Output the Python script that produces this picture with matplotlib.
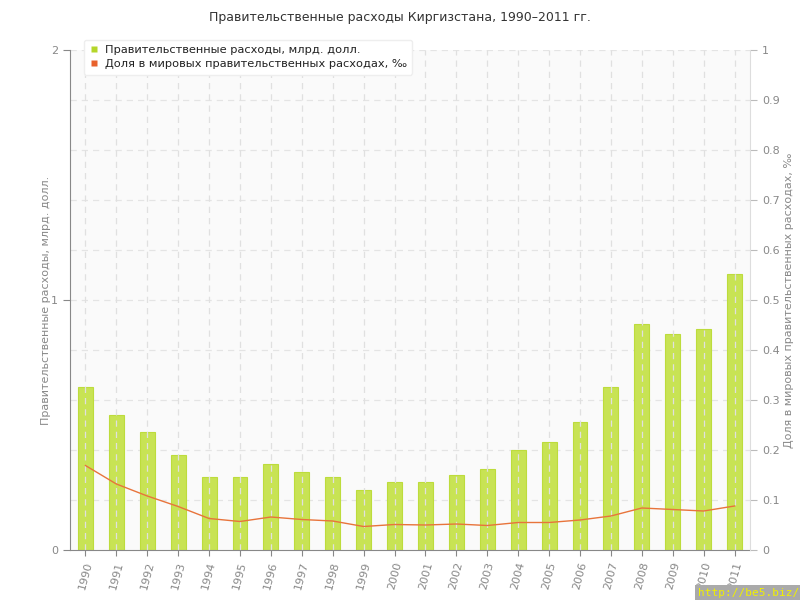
import matplotlib
matplotlib.use("Agg")
import matplotlib.pyplot as plt
from matplotlib.lines import Line2D
import numpy as np

years = [str(y) for y in range(1990, 2012)]
spending = [0.652, 0.54, 0.472, 0.38, 0.292, 0.292, 0.344, 0.312, 0.292, 0.24, 0.272,
            0.272, 0.30, 0.324, 0.40, 0.432, 0.512, 0.652, 0.904, 0.864, 0.884, 1.104]
share = [0.169, 0.132, 0.108, 0.087, 0.063, 0.057, 0.066, 0.061, 0.058, 0.047, 0.051,
         0.050, 0.052, 0.049, 0.055, 0.055, 0.060, 0.068, 0.084, 0.081, 0.078, 0.088]
left_ticks = [0, 1, 2]
right_ticks = [0, 0.1, 0.2, 0.3, 0.4, 0.5, 0.6, 0.7, 0.8, 0.9, 1]
right_labels = ["0", "0.1", "0.2", "0.3", "0.4", "0.5", "0.6", "0.7", "0.8", "0.9", "1"]

title = "Правительственные расходы Киргизстана, 1990–2011 гг."
left_label = "Правительственные расходы, млрд. долл."
right_label = "Доля в мировых правительственных расходах, ‰"
leg1 = "Правительственные расходы, млрд. долл."
leg2 = "Доля в мировых правительственных расходах, ‰"

plt.rcParams['font.family'] = ['DejaVu Sans']
gray = '#888888'

fig = plt.figure(figsize=(8, 6), dpi=100)
ax = fig.add_axes([70/800, 50/600, 680/800, 500/600])
ax2 = ax.twinx()

x = np.arange(len(years))
ax.set_facecolor('#fafafa')
ax.bar(x, spending, width=0.48, color='#c8e354', edgecolor='#bddc3c', linewidth=0.8, zorder=2)
ax.set_xlim(-0.5, len(years) - 0.5)
ax.set_ylim(0, 2)
ax.set_yticks(left_ticks)
ax.set_yticklabels([str(t) for t in left_ticks])
ax.set_xticks(x)
ax.set_xticklabels(years, rotation=75, ha='center', va='top')

ax2.plot(x, share, color='#e8743b', linewidth=1.0, zorder=3)
ax2.set_ylim(0, 1)
ax2.set_yticks(right_ticks)
ax2.set_yticklabels(right_labels)

# grid
for xi in x:
    ax.axvline(xi, color='#e0e0e0', linestyle=(0, (5, 4)), linewidth=0.9, zorder=2.5)
for t in right_ticks[1:]:
    ax.axhline(t * 2, color='#e4e4e4', linestyle=(0, (5, 4)), linewidth=0.9, zorder=1)

for a in (ax, ax2):
    a.spines['top'].set_visible(False)
    a.tick_params(colors=gray, labelcolor=gray, labelsize=8, direction='out', length=5, width=0.8)
ax.spines['left'].set_color(gray)
ax.spines['bottom'].set_color(gray)
ax.spines['right'].set_visible(False)
ax2.spines['left'].set_visible(False)
ax2.spines['bottom'].set_visible(False)
ax2.spines['right'].set_color('#dddddd')
ax2.tick_params(axis='y', colors='#bbbbbb', labelcolor=gray)
ax.tick_params(axis='x', length=4)

ax.set_ylabel(left_label, color=gray, fontsize=8, labelpad=0)
ax2.set_ylabel(right_label, color=gray, fontsize=8, labelpad=3)
fig.text(0.5, 1 - 18/600, title, ha='center', va='center', fontsize=9, color='#333333')

# legend
handles = [Line2D([], [], marker='s', color='none', markerfacecolor='#b5d62a', markeredgecolor='none', markersize=5),
           Line2D([], [], marker='s', color='none', markerfacecolor='#e8612c', markeredgecolor='none', markersize=5)]
leg = ax2.legend(handles, [leg1, leg2], loc='upper left', bbox_to_anchor=(0.012, 1.032),
                 fontsize=8.2, frameon=True, fancybox=True, shadow=False,
                 handlelength=0.8, handletextpad=0.6, labelspacing=0.4, borderpad=0.45)
leg.get_frame().set_edgecolor('#eeeeee')
leg.get_frame().set_facecolor('white')
leg.get_frame().set_alpha(1)
leg.set_zorder(10)
for t in leg.get_texts():
    t.set_color('#222222')

# watermark
fig.text(1 - 1/800, 7/600, "http://be5.biz/", ha='right', va='center', fontsize=8,
         family='DejaVu Sans Mono',
         color='#f0f000', bbox=dict(boxstyle='square,pad=0.25', facecolor='#aaaaaa', edgecolor='none'))

fig.savefig("out.png", dpi=100)
